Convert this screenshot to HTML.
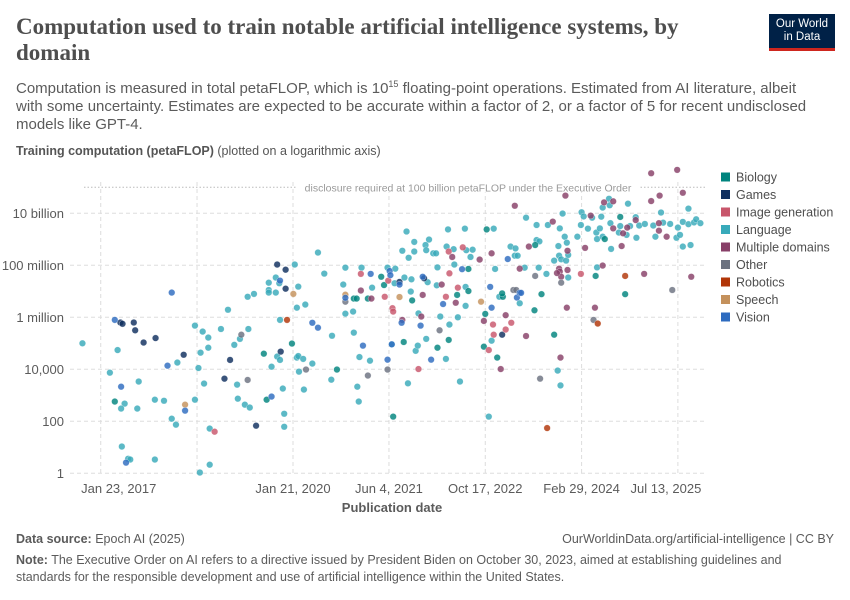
<!DOCTYPE html>
<html><head><meta charset="utf-8">
<style>
body{margin:0;width:850px;height:600px;background:#fff;font-family:"Liberation Sans",sans-serif;overflow:hidden;position:relative}
.t{position:absolute;white-space:nowrap}
</style></head>
<body>
<div class="t" style="left:16px;top:14px;font-family:'Liberation Serif',serif;font-size:23px;font-weight:bold;color:#4e4e4e;line-height:26px;white-space:normal;width:720px">Computation used to train notable artificial intelligence systems, by domain</div>
<div class="t" style="left:16px;top:75px;font-size:15px;color:#5b5b5b;line-height:18px;white-space:normal;width:800px">Computation is measured in total petaFLOP, which is 10<sup style="font-size:9px">15</sup> floating-point operations. Estimated from AI literature, albeit with some uncertainty. Estimates are expected to be accurate within a factor of 2, or a factor of 5 for recent undisclosed models like GPT-4.</div>
<div class="t" style="left:769px;top:14px;width:66px;height:37px;background:#002147;border-bottom:3px solid #ce261e;color:#fff;font-size:11.5px;line-height:13px;text-align:center;padding-top:4px;box-sizing:border-box">Our World<br>in Data</div>
<div class="t" style="left:16px;top:144px;font-size:12.5px;color:#555"><b>Training computation (petaFLOP)</b> (plotted on a logarithmic axis)</div>
<svg id="chart" width="850" height="600" style="position:absolute;left:0;top:0" font-family="Liberation Sans, sans-serif"></svg>
<div class="t" style="left:16px;top:532px;font-size:12.5px;color:#5b5b5b"><b>Data source:</b> Epoch AI (2025)</div>
<div class="t" style="right:16px;top:532px;font-size:12.5px;color:#5b5b5b">OurWorldinData.org/artificial-intelligence | CC BY</div>
<div class="t" style="left:16px;top:552px;font-size:12.5px;color:#5b5b5b;line-height:17px;white-space:normal;width:820px"><b>Note:</b> The Executive Order on AI refers to a directive issued by President Biden on October 30, 2023, aimed at establishing guidelines and standards for the responsible development and use of artificial intelligence within the United States.</div>
<script>
const yTickExps=[0,2,4,6,8,10];
const yTickLabels=["1","100","10,000","1 million","100 million","10 billion"];
const xTickYears=[2017.32,2018.69,2020.055,2021.42,2022.79,2024.16,2025.53];
const xTickLabels=["Jan 23, 2017","","Jan 21, 2020","Jun 4, 2021","Oct 17, 2022","Feb 29, 2024","Jul 13, 2025"];
const domainNames=["Biology","Games","Image generation","Language","Multiple domains","Other","Robotics","Speech","Vision"];
const domainColors=["#00847e","#0f2e5e","#c8566b","#38aaba","#883f68","#6b7280","#b13507","#c4915c","#2d6bbf"];
const biology=[[2017.52,2.76],[2019.64,4.60],[2019.68,2.83],[2020.04,4.99],[2020.68,3.99],[2020.92,6.72],[2020.96,6.72],[2021.12,6.72],[2021.31,7.56],[2021.35,7.24],[2021.48,2.18],[2021.63,5.05],[2022.11,4.83],[2022.27,5.13],[2021.75,6.65],[2022.39,6.86],[2022.55,7.01],[2022.55,7.86],[2022.81,9.38],[2022.79,6.13],[2022.77,4.87],[2022.96,4.45],[2023.04,6.79],[2023.03,6.92],[2023.50,8.78],[2023.49,6.27],[2023.59,6.89],[2023.77,5.33],[2024.36,7.59],[2024.49,9.01],[2024.71,9.86],[2024.78,6.89]];
const games=[[2017.60,5.8],[2017.63,5.75],[2017.79,5.8],[2017.81,5.5],[2017.93,5.03],[2018.10,5.2],[2018.50,4.56],[2019.16,4.36],[2019.08,3.64],[2019.53,1.83],[2019.88,4.68],[2019.83,8.03],[2019.95,7.83],[2019.95,7.10],[2021.57,7.36],[2021.92,7.5],[2023.03,5.33]];
const imageGen=[[2018.94,1.60],[2021.02,7.67],[2021.36,6.79],[2021.41,7.41],[2021.47,6.35],[2021.48,6.22],[2021.84,4.01],[2022.23,6.79],[2022.28,7.69],[2022.40,7.14],[2022.27,8.53],[2022.47,8.69],[2022.90,5.72],[2022.91,5.33],[2022.84,4.74],[2023.08,5.53],[2023.16,5.79],[2024.15,7.67]];
const language=[[2017.06,5.0],[2017.45,3.87],[2017.56,4.74],[2017.66,2.68],[2017.61,2.49],[2017.84,2.49],[2017.86,3.53],[2018.41,4.26],[2018.66,5.68],[2018.77,5.45],[2018.85,5.22],[2018.85,4.83],[2018.74,4.64],[2018.71,4.05],[2018.79,3.45],[2018.09,2.83],[2018.22,2.79],[2018.33,2.10],[2018.39,1.87],[2018.66,2.83],[2017.62,1.03],[2017.71,0.56],[2017.74,0.53],[2018.09,0.53],[2018.73,0.03],[2018.87,0.33],[2018.87,1.72],[2019.03,5.55],[2019.13,6.29],[2019.22,4.94],[2019.30,5.17],[2019.42,5.55],[2019.41,6.79],[2019.50,6.90],[2019.26,3.41],[2019.27,2.87],[2019.37,2.64],[2019.44,2.53],[2019.75,4.10],[2019.83,4.49],[2019.87,4.36],[2019.71,7.33],[2019.71,7.05],[2019.71,6.95],[2019.81,6.95],[2019.81,7.53],[2019.86,7.31],[2019.87,5.9],[2020.08,8.03],[2020.13,7.18],[2020.11,4.45],[2020.13,4.51],[2020.20,4.40],[2020.14,3.91],[2019.91,3.26],[2019.93,2.29],[2019.93,1.79],[2020.21,3.22],[2020.33,4.22],[2020.11,6.37],[2020.23,6.49],[2020.41,8.49],[2020.50,7.68],[2020.61,5.29],[2020.60,3.60],[2020.77,7.26],[2020.80,7.91],[2020.80,6.14],[2020.91,6.22],[2020.92,5.41],[2021.03,7.91],[2021.18,7.14],[2021.00,4.47],[2021.15,4.33],[2020.97,3.33],[2020.99,2.76],[2021.40,7.91],[2021.46,4.96],[2021.51,7.87],[2021.50,7.31],[2021.64,7.53],[2021.74,7.46],[2021.69,3.46],[2021.80,4.71],[2021.83,4.91],[2021.95,5.17],[2022.23,4.40],[2021.84,6.15],[2022.15,6.03],[2022.28,5.72],[2022.40,6.0],[2021.73,6.99],[2021.97,7.35],[2022.10,7.23],[2022.11,7.92],[2022.51,7.17],[2022.35,8.03],[2022.51,6.44],[2022.43,3.53],[2021.61,8.56],[2021.70,8.29],[2021.78,8.53],[2021.78,8.90],[2021.94,8.78],[2021.99,8.99],[2021.95,8.58],[2022.05,8.46],[2022.09,8.46],[2022.24,8.72],[2022.34,8.62],[2022.52,8.58],[2022.61,8.60],[2022.58,8.32],[2021.67,9.3],[2022.26,9.38],[2022.50,9.41],[2022.91,9.41],[2022.93,7.86],[2022.88,5.10],[2022.84,2.18],[2022.99,6.79],[2023.28,6.54],[2023.15,8.72],[2023.22,8.65],[2023.21,8.37],[2023.25,8.37],[2023.35,7.91],[2023.37,9.83],[2023.52,8.97],[2023.56,8.92],[2023.52,9.55],[2023.55,7.91],[2023.66,7.67],[2023.68,9.55],[2023.85,9.42],[2023.89,9.99],[2023.92,9.10],[2023.95,8.87],[2023.83,8.74],[2023.84,8.37],[2023.87,8.23],[2023.94,8.18],[2023.97,8.40],[2023.77,8.18],[2023.97,7.53],[2023.82,3.95],[2023.86,3.38],[2024.10,9.10],[2024.15,9.55],[2024.16,10.04],[2024.19,9.88],[2024.25,9.41],[2024.31,9.83],[2024.38,7.92],[2024.37,9.26],[2024.42,9.42],[2024.38,9.01],[2024.46,9.10],[2024.44,9.87],[2024.46,10.22],[2024.55,10.56],[2024.56,10.31],[2024.57,9.62],[2024.58,8.63],[2024.69,9.26],[2024.71,9.51],[2024.80,9.17],[2024.85,9.51],[2024.82,10.37],[2024.93,9.85],[2024.94,9.06],[2024.98,9.53],[2025.06,9.59],[2025.18,9.53],[2025.21,9.10],[2025.29,10.03],[2025.32,9.64],[2025.42,9.59],[2025.53,9.45],[2025.51,9.06],[2025.56,9.17],[2025.60,9.67],[2025.60,8.72],[2025.68,9.58],[2025.68,10.18],[2025.71,8.78],[2025.76,9.65],[2025.79,9.77],[2025.85,9.62]];
const multiDomain=[[2021.02,7.03],[2021.17,6.72],[2021.61,5.9],[2021.88,6.03],[2021.90,6.86],[2022.17,7.26],[2022.32,8.32],[2022.37,6.56],[2022.71,8.22],[2022.88,8.46],[2022.77,5.86],[2023.01,4.01],[2023.08,6.08],[2023.28,7.87],[2023.21,10.29],[2023.41,8.72],[2023.37,5.28],[2023.75,9.68],[2023.93,10.68],[2023.96,8.56],[2023.84,7.87],[2023.85,7.76],[2023.87,7.56],[2023.81,7.7],[2023.96,7.82],[2023.95,6.37],[2023.86,4.45],[2024.29,9.91],[2024.21,8.67],[2024.35,6.37],[2024.46,7.99],[2024.48,10.42],[2024.61,10.46],[2024.61,9.42],[2024.75,9.23],[2024.81,9.45],[2024.73,8.74],[2024.93,9.74],[2025.05,7.67],[2025.15,10.47],[2025.15,11.54],[2025.26,9.62],[2025.26,9.33],[2025.27,10.68],[2025.37,9.1],[2025.52,11.67],[2025.60,10.79],[2025.72,7.56]];
const other=[[2019.32,5.33],[2019.41,3.59],[2020.24,3.99],[2020.80,6.6],[2021.12,3.76],[2021.40,3.99],[2022.14,5.50],[2023.19,7.05],[2023.23,7.05],[2023.50,7.59],[2023.87,7.33],[2023.57,3.64],[2024.33,5.90],[2025.45,7.05]];
const robotics=[[2019.97,5.9],[2023.67,1.74],[2024.39,5.76],[2024.78,7.59]];
const speech=[[2018.52,2.64],[2020.06,6.90],[2020.80,6.87],[2021.57,6.78],[2022.73,6.60]];
const vision=[[2017.52,5.9],[2017.61,3.33],[2017.68,0.41],[2018.33,6.95],[2018.27,4.14],[2018.52,2.41],[2019.75,2.95],[2019.87,7.41],[2020.33,5.79],[2020.41,5.60],[2020.80,6.75],[2021.05,4.91],[2021.16,7.67],[2021.40,4.37],[2021.46,4.96],[2021.43,7.78],[2021.44,7.62],[2021.57,7.26],[2021.60,5.79],[2022.02,4.37],[2021.87,5.68],[2022.19,6.51],[2021.90,7.56],[2022.46,7.85],[2022.88,6.37],[2022.86,7.17],[2023.24,6.76],[2023.28,6.94],[2023.30,6.94],[2023.11,8.24]];
const eoThresholdExp=11;

const NS="http://www.w3.org/2000/svg";
const svg=document.getElementById('chart');
const X0=70,X1=706;
function xs(yr){return 293+(yr-2020.055)*70.3;}
function ys(e){return 473.3-e*26;}
function mk(tag,attrs,parent){const el=document.createElementNS(NS,tag);for(const k in attrs)el.setAttribute(k,attrs[k]);(parent||svg).appendChild(el);return el;}

yTickExps.forEach((e,i)=>{
  const l=mk('line',{x1:X0,x2:X1,y1:ys(e),y2:ys(e),stroke:'#ddd','stroke-dasharray':'4,3'});
  
  
  const t=mk('text',{x:64,y:ys(e)+4.5,'text-anchor':'end','font-size':13,fill:'#5b5b5b'});
  t.textContent=yTickLabels[i];
  
  
});
xTickYears.forEach((yr,i)=>{
  const l=mk('line',{x1:xs(yr),x2:xs(yr),y1:182,y2:473,stroke:'#ddd','stroke-dasharray':'4,3'});
  
  
  if(xTickLabels[i]){
    let cx=xs(yr);
    if(i===0)cx+=18;
    if(i===xTickLabels.length-1)cx-=12;
    const t=mk('text',{x:cx,y:493,'text-anchor':'middle','font-size':13,fill:'#5b5b5b'});
    t.textContent=xTickLabels[i];
    
    
  }
});
const xt=mk('text',{x:392,y:512,'text-anchor':'middle','font-size':13,'font-weight':'bold',fill:'#5b5b5b'});
xt.textContent='Publication date';



const eo=mk('line',{x1:84,x2:X1,y1:ys(eoThresholdExp),y2:ys(eoThresholdExp),stroke:'#bbb','stroke-dasharray':'1.5,2'});


const eor=mk('rect',{x:296,y:ys(eoThresholdExp)-6,width:344,height:11,fill:'#fff'});


const eot=mk('text',{x:468,y:ys(eoThresholdExp)+4,'text-anchor':'middle','font-size':10.5,fill:'#9a9a9a'});
eot.textContent='disclosure required at 100 billion petaFLOP under the Executive Order';



const series=[[language,3],[biology,0],[games,1],[imageGen,2],[multiDomain,4],[other,5],[robotics,6],[speech,7],[vision,8]];
series.forEach(([arr,ci])=>{
  arr.forEach(p=>{
    const c=mk('circle',{cx:xs(p[0]),cy:ys(p[1]),r:3.3,fill:domainColors[ci],'fill-opacity':0.82,stroke:'#fff','stroke-width':0.3});
    
    
  });
});

domainNames.forEach((n,i)=>{
  const y=177+i*17.5;
  const r=mk('rect',{x:721,y:y-4.5,width:9,height:9,fill:domainColors[i]});
  
  
  const t=mk('text',{x:736,y:y+4.5,'font-size':12.5,fill:'#4e4e4e'});
  t.textContent=n;
  
  
});
</script>
</body></html>
